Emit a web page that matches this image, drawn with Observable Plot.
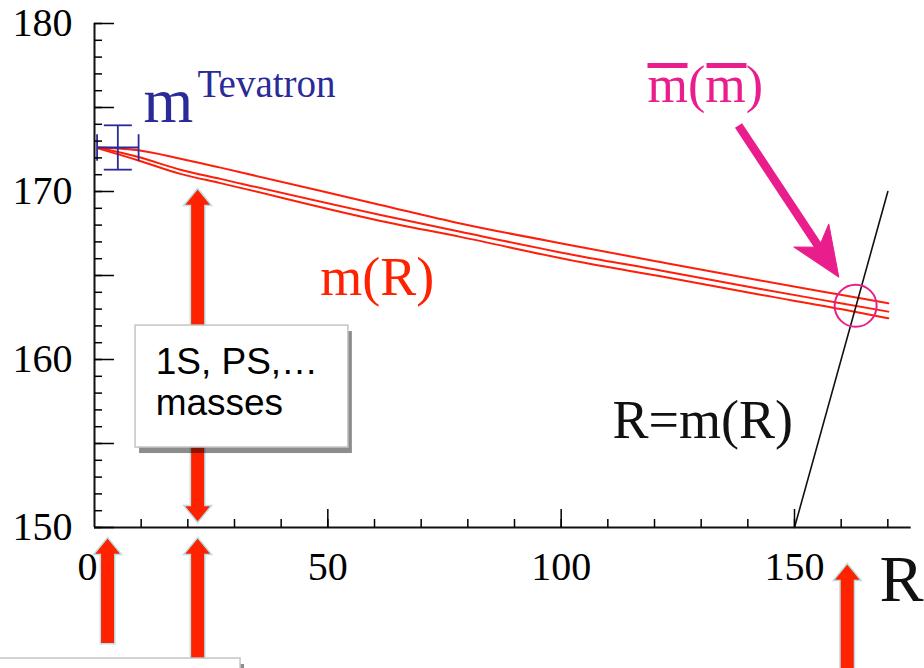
<!DOCTYPE html>
<html>
<head>
<meta charset="utf-8">
<script src="https://cdn.jsdelivr.net/npm/d3@7"></script>
<script src="https://cdn.jsdelivr.net/npm/@observablehq/plot@0.6"></script>
<style>
  html, body { margin: 0; padding: 0; background: #fff; }
  #chart { width: 924px; height: 668px; overflow: hidden; }
</style>
</head>
<body>
<div id="chart"></div>
<script>
// ---------- data ----------
const rGrid    = [0.9, 9.4, 18.4, 27, 61.3, 78.4, 104.1, 121.3, 142.7, 159.9, 170.1];
const mUpper   = [172.62, 172.45, 171.95, 171.42, 169.2, 168.1, 166.7, 165.8, 164.7, 163.85, 163.35];
const mCentral = [172.6, 172.05, 171.3, 170.75, 168.6, 167.6, 166.15, 165.3, 164.2, 163.35, 162.85];
const mLower   = [172.55, 171.85, 171.05, 170.5, 168.25, 167.3, 165.8, 164.95, 163.85, 163.0, 162.45];

// Tevatron point with errors
const tevR = [5.0], tevM = [172.62], tevErrR = [4.45], tevErrM = [1.32];

// R = m(R) diagonal
const diagR = [150, 170];

// m̄(m̄) intersection marker
const mbarR = [163.1], mbarM = [163.2];

// annotation anchors (data units)
const pinkArrowR = [138.0, 159.5], pinkArrowM = [173.93, 164.9];
const doubleArrowR = [22.1], doubleArrowM = [170.18, 150.3];
const upArrowR = [2.8, 22.1, 161.3], upArrowTipM = [149.4, 149.4, 147.86], upArrowTailM = [143.1, 140.5, 140.5];
const boxR = [8.8, 54.4], boxM = [154.76, 162.02];
const box2R = [-25, 31.3], box2M = [139.5, 142.2];

// tick values
const yMinor = d3.range(150, 181, 1);
const yMajor = [150, 155, 160, 165, 170, 175, 180];
const yLabels = [150, 160, 170, 180];
const xMinor = d3.range(10, 180, 10);
const xMajor = [50, 100, 150];
const xLabels = [50, 100, 150];
const xZeroLabel = [0];

// ---------- layout ----------
const W = 924, H = 668;
const mL = 94, mR = 13.33, mT = 23, mB = 141;
const xDomain = [0, 175], yDomain = [150, 180];
const sx = d3.scaleLinear(xDomain, [mL, W - mR]);
const sy = d3.scaleLinear(yDomain, [H - mB, mT]);
const mPerPx = (yDomain[1] - yDomain[0]) / (H - mB - mT);

const RED = "#ff2200", OUT = "#b9e0e4", PINK = "#e91e8c", NAVY = "#2a2a98", LINE = "#ff1e0a";

// red block-arrow heads (apex at origin)
const headUp = {draw(c) { c.moveTo(0, 0); c.lineTo(14, 17); c.lineTo(-14, 17); c.closePath(); }};
const headDown = {draw(c) { c.moveTo(0, 0); c.lineTo(14, -17); c.lineTo(-14, -17); c.closePath(); }};

// pink arrow geometry in pixels
const p0x = sx(pinkArrowR[0]), p0y = sy(pinkArrowM[0]), p1x = sx(pinkArrowR[1]), p1y = sy(pinkArrowM[1]);
const plen = Math.hypot(p1x - p0x, p1y - p0y);
const ux = (p1x - p0x) / plen, uy = (p1y - p0y) / plen, nx = -uy, ny = ux;
const pinkHead = {draw(c) {
  c.moveTo(0, 0);
  c.lineTo(-50 * ux + 21 * nx, -50 * uy + 21 * ny);
  c.lineTo(-36 * ux, -36 * uy);
  c.lineTo(-50 * ux - 21 * nx, -50 * uy - 21 * ny);
  c.closePath();
}};
const notchR = sx.invert(p1x - 30 * ux), notchM = sy.invert(p1y - 30 * uy);

// tables
const lineRows = (ms) => rGrid.map((r, i) => ({R: r, m: ms[i]}));
const upArrows = upArrowR.map((r, i) => ({R: r, tip: upArrowTipM[i], tail: upArrowTailM[i]}));
const hl = 17 * mPerPx;

const overbars = [
  {x1: sx.invert(647), x2: sx.invert(687)},
  {x1: sx.invert(706), x2: sx.invert(746)}
];

const chart = Plot.plot({
  width: W, height: H,
  marginLeft: mL, marginRight: mR, marginTop: mT, marginBottom: mB,
  x: {domain: xDomain, axis: null},
  y: {domain: yDomain, axis: null},
  style: {background: "#fff", color: "#000", fontFamily: "Liberation Serif"},
  marks: [
    // m(R) band
    Plot.line(lineRows(mUpper), {x: "R", y: "m", stroke: LINE, strokeWidth: 2, curve: "monotone-x"}),
    Plot.line(lineRows(mCentral), {x: "R", y: "m", stroke: LINE, strokeWidth: 2, curve: "monotone-x"}),
    Plot.line(lineRows(mLower), {x: "R", y: "m", stroke: LINE, strokeWidth: 2, curve: "monotone-x"}),
    // R = m(R)
    Plot.line(diagR.map(d => ({R: d, m: d})), {x: "R", y: "m", stroke: "#111", strokeWidth: 1.6}),
    // Tevatron error bars
    Plot.link(tevR.map((r, i) => ({r, m: tevM[i], e: tevErrR[i]})), {x1: d => d.r - d.e, x2: d => d.r + d.e, y1: "m", y2: "m", stroke: NAVY, strokeWidth: 1.8}),
    Plot.link(tevR.map((r, i) => ({r, m: tevM[i], e: tevErrM[i]})), {x1: "r", x2: "r", y1: d => d.m - d.e, y2: d => d.m + d.e, stroke: NAVY, strokeWidth: 1.8}),
    Plot.link(tevR.flatMap((r, i) => [r - tevErrR[i], r + tevErrR[i]].map(x => ({x, m: tevM[i]}))), {x1: "x", x2: "x", y1: d => d.m - 0.79, y2: d => d.m + 0.79, stroke: NAVY, strokeWidth: 1.8}),
    Plot.link(tevR.flatMap((r, i) => [tevM[i] - tevErrM[i], tevM[i] + tevErrM[i]].map(m => ({r, m}))), {x1: d => d.r - 3.0, x2: d => d.r + 3.0, y1: "m", y2: "m", stroke: NAVY, strokeWidth: 1.8}),
    // circle at m̄(m̄)
    Plot.dot(mbarR.map((r, i) => ({R: r, m: mbarM[i]})), {x: "R", y: "m", r: 21, stroke: PINK, strokeWidth: 2, fill: "none"}),
    // pink arrow
    Plot.link([{x1: pinkArrowR[0], y1: pinkArrowM[0], x2: notchR, y2: notchM}], {x1: "x1", y1: "y1", x2: "x2", y2: "y2", stroke: PINK, strokeWidth: 8.5}),
    Plot.dot([{R: pinkArrowR[1], m: pinkArrowM[1]}], {x: "R", y: "m", symbol: pinkHead, r: 10, fill: PINK, stroke: PINK, strokeWidth: 1}),
    // red double arrow
    Plot.ruleX(doubleArrowR, {x: d => d, y1: doubleArrowM[0] - hl, y2: doubleArrowM[1] + hl, stroke: OUT, strokeWidth: 16}),
    Plot.dot(doubleArrowR, {x: d => d, y: doubleArrowM[0], symbol: headUp, r: 10, fill: RED, stroke: OUT, strokeWidth: 1.5}),
    Plot.dot(doubleArrowR, {x: d => d, y: doubleArrowM[1], symbol: headDown, r: 10, fill: RED, stroke: OUT, strokeWidth: 1.5}),
    Plot.ruleX(doubleArrowR, {x: d => d, y1: doubleArrowM[0] - 0.85 * hl, y2: doubleArrowM[1] + 0.85 * hl, stroke: RED, strokeWidth: 13}),
    // red up arrows below the axis
    Plot.ruleX(upArrows, {x: "R", y1: d => d.tip - hl, y2: d => d.tail - 1.5 * mPerPx, stroke: OUT, strokeWidth: 16}),
    Plot.dot(upArrows, {x: "R", y: "tip", symbol: headUp, r: 10, fill: RED, stroke: OUT, strokeWidth: 1.5}),
    Plot.ruleX(upArrows, {x: "R", y1: d => d.tip - 0.85 * hl, y2: "tail", stroke: RED, strokeWidth: 13}),
    // "1S, PS,... masses" box
    Plot.rect([{}], {x1: boxR[0], x2: boxR[1], y1: boxM[0], y2: boxM[1], dx: 4, dy: 6, fill: "#000", fillOpacity: 0.45, ariaLabel: "shadow"}),
    Plot.rect([{}], {x1: boxR[0], x2: boxR[1], y1: boxM[0], y2: boxM[1], fill: "#fff", stroke: "#c4c4c4", strokeWidth: 1.5}),
    Plot.text(["1S, PS,…"], {x: 13.1, y: 159.15, text: d => d, textAnchor: "start", lineAnchor: "bottom", fontFamily: "Liberation Sans", fontSize: 37, fill: "#000"}),
    Plot.text(["masses"], {x: 13.1, y: 156.67, text: d => d, textAnchor: "start", lineAnchor: "bottom", fontFamily: "Liberation Sans", fontSize: 37, fill: "#000"}),
    // bottom box (partly visible)
    Plot.rect([{}], {x1: box2R[0], x2: box2R[1], y1: box2M[0], y2: box2M[1], dx: 4, dy: 6, fill: "#000", fillOpacity: 0.45, ariaLabel: "shadow"}),
    Plot.rect([{}], {x1: box2R[0], x2: box2R[1], y1: box2M[0], y2: box2M[1], fill: "#fff", stroke: "#c4c4c4", strokeWidth: 1.5}),
    // axes
    Plot.ruleX([0], {stroke: "#111", strokeWidth: 2}),
    Plot.ruleY([150], {stroke: "#111", strokeWidth: 2}),
    Plot.axisY(yMinor, {anchor: "left", tickSize: 8, dx: 8, tickFormat: () => "", strokeWidth: 1.5, label: null}),
    Plot.axisY(yMajor, {anchor: "left", tickSize: 20, dx: 20, tickFormat: () => "", strokeWidth: 1.5, label: null}),
    Plot.axisX(xMinor, {anchor: "bottom", tickSize: 8, dy: -8, tickFormat: () => "", strokeWidth: 1.5, label: null}),
    Plot.axisX(xMajor, {anchor: "bottom", tickSize: 18, dy: -18, tickFormat: () => "", strokeWidth: 1.5, label: null}),
    Plot.axisY(yLabels, {anchor: "left", tickSize: 0, tickPadding: 22, fontSize: 40, fill: "#000", label: null}),
    Plot.axisX(xLabels, {anchor: "bottom", tickSize: 0, tickPadding: 24, fontSize: 40, fill: "#000", label: null}),
    Plot.axisX(xZeroLabel, {anchor: "bottom", tickSize: 0, tickPadding: 24, dx: -7, fontSize: 40, fill: "#000", label: null}),
    // labels
    Plot.text(["m"], {x: 10.5, y: 174.11, text: d => d, textAnchor: "start", lineAnchor: "bottom", fontSize: 64, fill: NAVY}),
    Plot.text(["Tevatron"], {x: 22.07, y: 175.6, text: d => d, textAnchor: "start", lineAnchor: "bottom", fontSize: 39, fill: NAVY}),
    Plot.text(["m(R)"], {x: 48.4, y: 163.81, text: d => d, textAnchor: "start", lineAnchor: "bottom", fontSize: 54, fill: RED}),
    Plot.text(["R=m(R)"], {x: 111.0, y: 155.3, text: d => d, textAnchor: "start", lineAnchor: "bottom", fontSize: 54, fill: "#111"}),
    Plot.text(["m(m)"], {x: 118.5, y: 175.32, text: d => d, textAnchor: "start", lineAnchor: "bottom", fontSize: 52, fill: PINK}),
    Plot.link(overbars, {x1: "x1", x2: "x2", y1: 177.5, y2: 177.5, stroke: PINK, strokeWidth: 5}),
    Plot.text(["R"], {x: 168.2, y: 145.65, text: d => d, textAnchor: "start", lineAnchor: "bottom", fontSize: 66, fill: "#111"})
  ]
});

// soft shadow
const svg = d3.select(chart.tagName === "svg" ? chart : chart.querySelector("svg"));
const defs = svg.insert("defs", ":first-child");
defs.append("filter").attr("id", "blur").attr("x", "-20%").attr("y", "-20%").attr("width", "140%").attr("height", "140%")
  .append("feGaussianBlur").attr("stdDeviation", 2.5);
svg.selectAll('g[aria-label="shadow"]').attr("filter", "url(#blur)");

document.getElementById("chart").appendChild(chart);
</script>
</body>
</html>
